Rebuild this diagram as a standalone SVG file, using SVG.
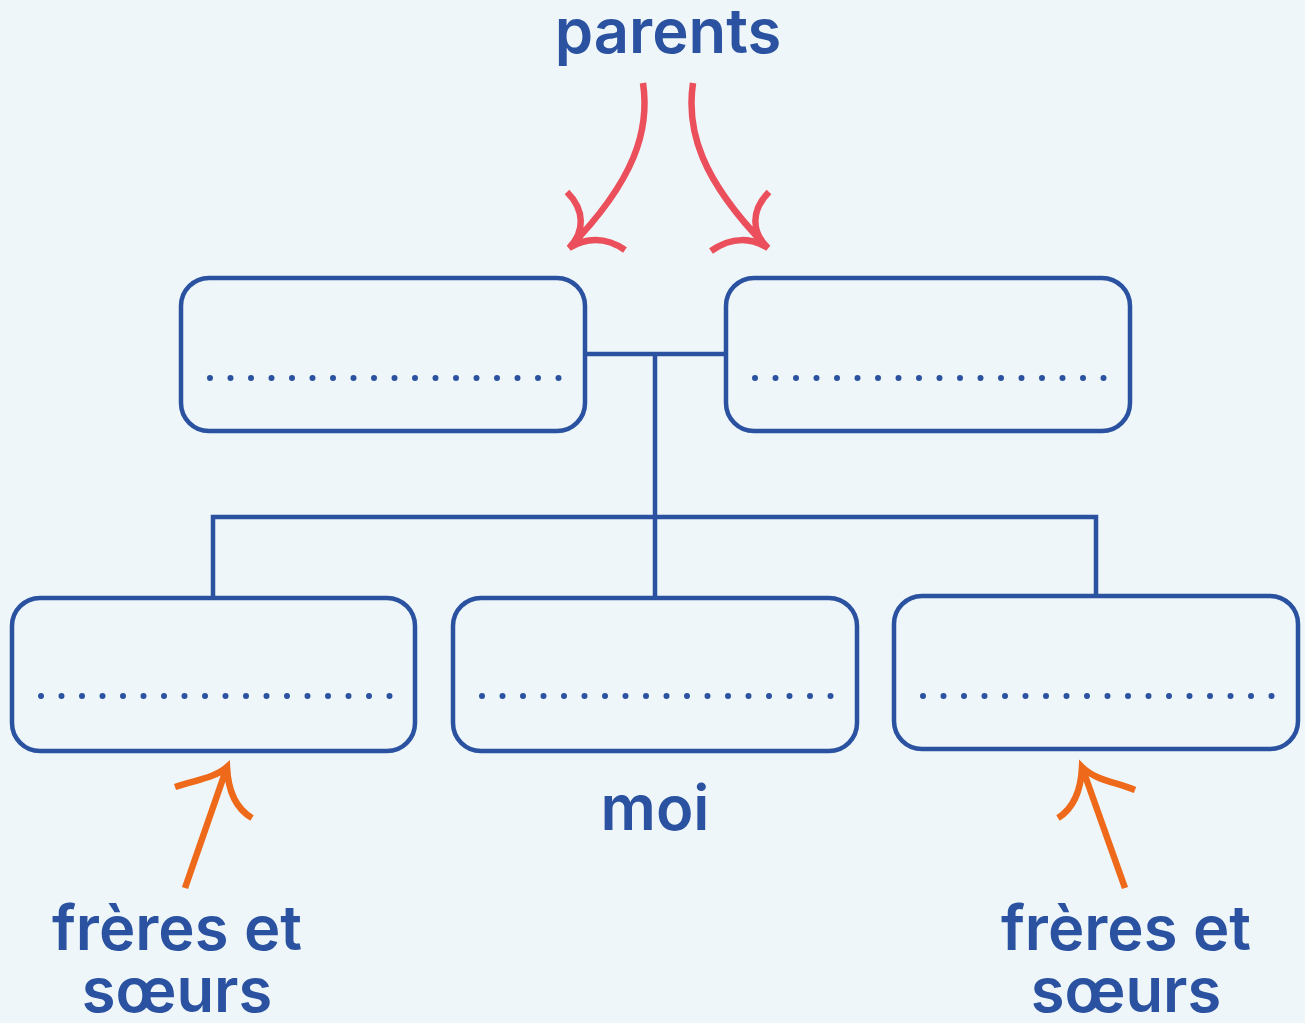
<svg xmlns="http://www.w3.org/2000/svg" width="1305" height="1023" viewBox="0 0 1305 1023">
<style>
.box{fill:none;stroke:#2A52A0;stroke-width:4.5}
.dots{fill:none;stroke:#2A52A0;stroke-width:6;stroke-linecap:round;stroke-dasharray:0 20.5}
.conn{fill:none;stroke:#2A52A0;stroke-width:4.5}
.red{fill:none;stroke:#EB4F5B;stroke-width:6.5}
.org{fill:none;stroke:#EE6A1A;stroke-width:6.5}
.lbl{font-family:Inter,"Liberation Sans",Arial,sans-serif;font-weight:600;fill:#2A52A0;text-anchor:middle;font-size:61.5px}
</style>
<rect width="1305" height="1023" fill="#EEF6F9"/>
<g id="connectors">
<path class="conn" d="M585 354H726M655 354V598M213 598V517H1096V596"/>
</g>
<g id="parent1"><rect class="box" x="181" y="278" width="404" height="153" rx="28"/><path class="dots" d="M210 378H560"/></g>
<g id="parent2"><rect class="box" x="726" y="278" width="404" height="153" rx="28"/><path class="dots" d="M755 378H1105"/></g>
<g id="sibling1"><rect class="box" x="12" y="598" width="403" height="153" rx="28"/><path class="dots" d="M41 696H391"/></g>
<g id="me"><rect class="box" x="453" y="598" width="404" height="153" rx="28"/><path class="dots" d="M482 696H832"/></g>
<g id="sibling2"><rect class="box" x="894" y="596" width="404" height="153" rx="28"/><path class="dots" d="M923 696H1273"/></g>
<g id="parents-label">
<text class="lbl" x="668" y="53">parents</text>
<path class="red" d="M643 83C650 130 635 180 569 248M567 192C585 210 585 232 569 248C585 238 605 236 625 250"/>
<path class="red" d="M693 83C686 130 701 180 768 248M769 192C751 210 751 232 768 248C752 238 732 236 711 251"/>
</g>
<g id="moi-label"><text class="lbl" x="655" y="830">moi</text></g>
<g id="siblings-left-label">
<text class="lbl" x="177" y="950">frères et</text>
<text class="lbl" x="177" y="1012">sœurs</text>
<path class="org" d="M185 888L227 767M175 787C195 780 215 778 227 767C228 790 235 808 252 818"/>
</g>
<g id="siblings-right-label">
<text class="lbl" x="1126" y="950">frères et</text>
<text class="lbl" x="1126" y="1012">sœurs</text>
<path class="org" d="M1125 888L1082 767M1135 790C1115 782 1095 780 1082 767C1081 790 1074 808 1058 818"/>
</g>
</svg>
